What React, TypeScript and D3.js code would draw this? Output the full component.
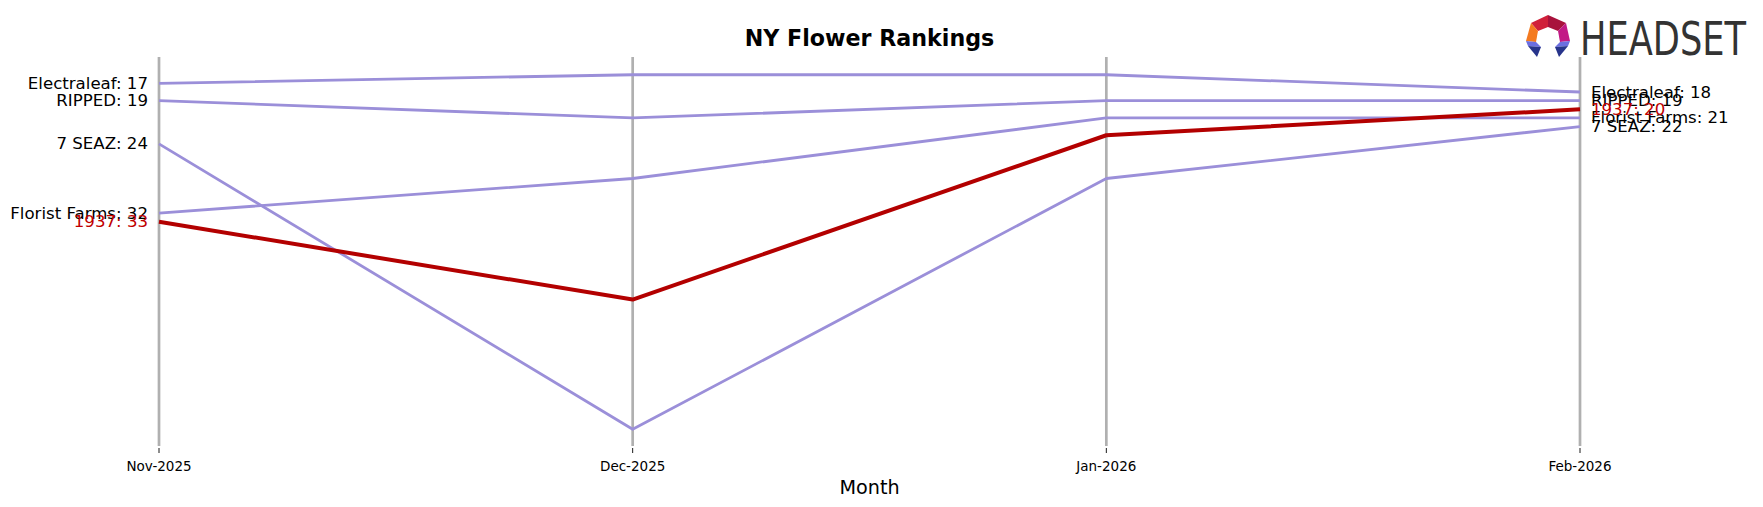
import React from "react";
import * as d3 from "d3";

const months = ["Nov-2025", "Dec-2025", "Jan-2026", "Feb-2026"];
const brands = ["Electraleaf", "RIPPED", "7 SEAZ", "Florist Farms", "1937"];
const electraleaf = [17, 16, 16, 18];
const ripped = [19, 21, 19, 19];
const sevenSeaz = [24, 57, 28, 22];
const floristFarms = [32, 28, 21, 21];
const r1937 = [33, 42, 23, 20];
const highlight = "1937";

const seriesValues = [electraleaf, ripped, sevenSeaz, floristFarms, r1937];

const W = 1763;
const H = 507;
const FONT = "DejaVu Sans, sans-serif";

export default function App() {
  const x = d3.scalePoint<string>().domain(months).range([159, 1580]);
  const allVals = seriesValues.flat();
  const lo = d3.min(allVals)!;
  const hi = d3.max(allVals)!;
  const pad = (hi - lo) * 0.05;
  const y = d3.scaleLinear().domain([lo - pad, hi + pad]).range([57, 447]);
  const line = d3
    .line<number>()
    .x((_, i) => x(months[i])!)
    .y((d) => y(d));

  const series = brands.map((b, i) => ({ name: b, values: seriesValues[i] }));
  const ordered = [
    ...series.filter((s) => s.name !== highlight),
    ...series.filter((s) => s.name === highlight),
  ];

  return (
    <svg
      width={W}
      height={H}
      style={{ position: "absolute", left: 0, top: 0, background: "#fff" }}
      fontFamily={FONT}
    >
      <rect width={W} height={H} fill="#fff" />
      {months.map((m) => (
        <g key={m}>
          <line x1={x(m)} x2={x(m)} y1={57} y2={446} stroke="#b0b0b0" strokeWidth={2.7} />
          <line x1={x(m)} x2={x(m)} y1={448} y2={453} stroke="#000" strokeWidth={0.9} />
          <text x={x(m)} y={466} textAnchor="middle" dominantBaseline="central" fontSize={13.5} fill="#000">
            {m}
          </text>
        </g>
      ))}
      <text x={869.5} y={487} textAnchor="middle" dominantBaseline="central" fontSize={19.2} fill="#000">
        Month
      </text>
      <text x={869.5} y={38} textAnchor="middle" dominantBaseline="central" fontSize={22.2} fontWeight="bold" fill="#000">
        NY Flower Rankings
      </text>
      {ordered.map((s) => {
        const hl = s.name === highlight;
        return (
          <path
            key={s.name}
            d={line(s.values)!}
            fill="none"
            stroke={hl ? "#b30000" : "#9b8fd9"}
            strokeWidth={hl ? 4 : 2.8}
            strokeLinejoin="round"
          />
        );
      })}
      {ordered.map((s) => {
        const hl = s.name === highlight;
        const col = hl ? "#c00000" : "#000";
        const first = s.values[0];
        const last = s.values[s.values.length - 1];
        return (
          <g key={s.name + "-lab"}>
            <text
              x={x(months[0])! - 11}
              y={y(first)}
              textAnchor="end"
              dominantBaseline="central"
              fontSize={16.6}
              fill={col}
            >
              {`${s.name}: ${first}`}
            </text>
            <text
              x={x(months[months.length - 1])! + 11}
              y={y(last)}
              textAnchor="start"
              dominantBaseline="central"
              fontSize={16.6}
              fill={col}
            >
              {`${s.name}: ${last}`}
            </text>
          </g>
        );
      })}
      {/* HEADSET logo */}
      <g>
        <polygon points="1548,15 1531,23 1538,31 1548,27" fill="#d0203a" />
        <polygon points="1548,15 1566,23 1558,31 1548,27" fill="#a8123c" />
        <polygon points="1531,23 1526,41 1536,42 1538,31" fill="#f47a20" />
        <polygon points="1566,23 1570,41 1560,42 1558,31" fill="#c21a86" />
        <polygon points="1526,41 1536,42 1541,47 1528,46" fill="#6b6ee0" />
        <polygon points="1528,46 1541,47 1537,57" fill="#27348b" />
        <polygon points="1570,41 1560,42 1555,47 1568,46" fill="#6b6ee0" />
        <polygon points="1568,46 1555,47 1559,57" fill="#27348b" />
        <text
          x={1580}
          y={55}
          fontFamily="'DejaVu Sans Condensed', 'Liberation Sans Narrow', sans-serif"
          fontSize={46}
          fill="#333333"
          textLength={166}
          lengthAdjust="spacingAndGlyphs"
        >
          HEADSET
        </text>
      </g>
    </svg>
  );
}
